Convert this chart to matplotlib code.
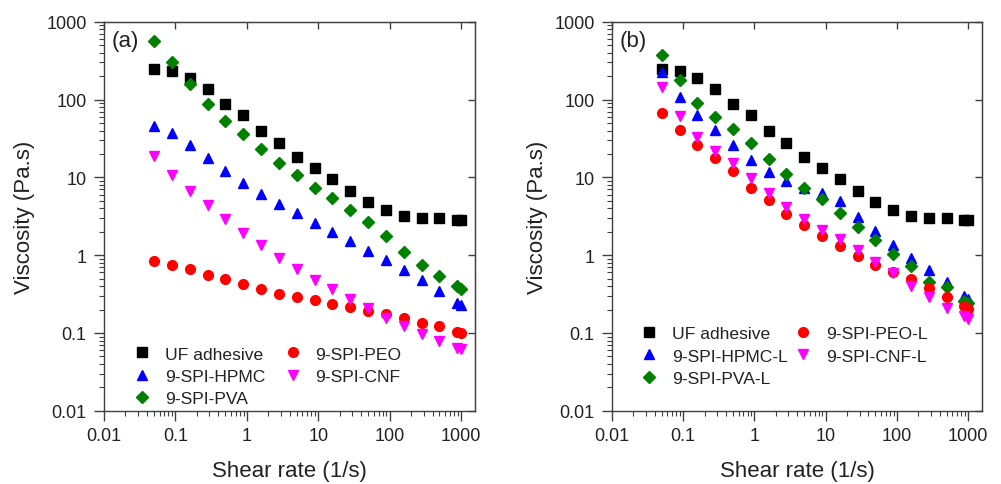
import numpy as np
import matplotlib
matplotlib.use("Agg")
import matplotlib.pyplot as plt
from matplotlib.ticker import LogLocator, NullLocator, NullFormatter

plt.rcParams['font.family'] = ['Liberation Sans', 'DejaVu Sans']

# shear rate (1/s)
shear = [0.05, 0.089, 0.158, 0.282, 0.5, 0.89, 1.58, 2.82, 5.0, 8.9,
         15.8, 28.2, 50, 89, 158, 282, 500, 890, 1000]

# viscosity (Pa.s), panel (a)
uf = [247, 232, 187, 138, 87.5, 62.7, 39.7, 27.9, 18.4, 13.2,
      9.4, 6.66, 4.82, 3.84, 3.18, 3.03, 3.0, 2.82, 2.85]
hpmc = [46, 36.7, 26.2, 17.5, 12.0, 8.45, 6.16, 4.54, 3.44, 2.61,
        2.0, 1.52, 1.14, 0.857, 0.644, 0.479, 0.346, 0.242, 0.229]
pva = [565, 306, 158, 87.5, 53.4, 36, 22.9, 15.4, 10.6, 7.35,
       5.37, 3.77, 2.68, 1.76, 1.1, 0.753, 0.533, 0.397, 0.366]
peo = [0.848, 0.746, 0.656, 0.56, 0.489, 0.429, 0.366, 0.319, 0.292, 0.267,
       0.237, 0.213, 0.19, 0.173, 0.154, 0.135, 0.122, 0.103, 0.0998]
cnf = [18.6, 10.8, 6.72, 4.41, 2.91, 1.94, 1.34, 0.918, 0.663, 0.483,
       0.367, 0.273, 0.207, 0.158, 0.122, 0.096, 0.078, 0.065, 0.062]

# panel (b), "-L" formulations
hpmc_l = [228, 109, 62.7, 40.5, 26.2, 16.8, 11.7, 8.96, 7.22, 6.29,
          4.96, 3.06, 2.03, 1.37, 0.91, 0.644, 0.447, 0.3, 0.273]
pva_l = [373, 180, 91, 59, 41.4, 27.6, 17, 11.1, 7.28, 5.21,
         3.51, 2.32, 1.56, 1.04, 0.724, 0.447, 0.386, 0.26, 0.242]
peo_l = [67, 40.6, 26.2, 17.7, 12.0, 7.22, 5.15, 3.37, 2.44, 1.78,
         1.32, 0.98, 0.753, 0.612, 0.493, 0.374, 0.292, 0.224, 0.203]
cnf_l = [146, 62, 33.3, 22, 15.1, 9.8, 6.22, 4.11, 2.91, 2.11,
         1.61, 1.17, 0.807, 0.583, 0.397, 0.292, 0.211, 0.163, 0.151]

x_major = [0.01, 0.1, 1, 10, 100, 1000]
y_major = [0.01, 0.1, 1, 10, 100, 1000]
x_labels = ['0.01', '0.1', '1', '10', '100', '1000']
y_labels = ['0.01', '0.1', '1', '10', '100', '1000']

spine_col = '#404040'
txt_col = '#222222'

fig = plt.figure(figsize=(10.01, 4.85), dpi=100)
ax_a = fig.add_axes([0.1039, 0.151, 0.3706, 0.802])
ax_b = fig.add_axes([0.6114, 0.151, 0.3696, 0.802])


def style_axes(ax, panel, ylab_x):
    ax.set_xscale('log')
    ax.set_yscale('log')
    ax.set_xlim(0.01, 1570)
    ax.set_ylim(0.01, 1000)
    ax.set_xticks(x_major)
    ax.set_xticklabels(x_labels)
    ax.set_yticks(y_major)
    ax.set_yticklabels(y_labels)
    ax.xaxis.set_minor_locator(LogLocator(base=10, subs=np.arange(2, 10), numticks=20))
    ax.yaxis.set_minor_locator(LogLocator(base=10, subs=np.arange(2, 10), numticks=20))
    ax.xaxis.set_minor_formatter(NullFormatter())
    ax.yaxis.set_minor_formatter(NullFormatter())
    ax.tick_params(which='major', direction='out', length=7.5, width=1,
                   color=spine_col, labelsize=13, labelcolor=txt_col)
    ax.tick_params(axis='x', which='major', pad=4)
    ax.tick_params(axis='y', which='major', pad=5)
    ax.tick_params(which='minor', direction='out', length=3.6, width=0.8, color=spine_col)
    for s in ax.spines.values():
        s.set_color(spine_col)
        s.set_linewidth(1.0)

    # inward major ticks on top and right
    top = ax.secondary_xaxis('top')
    top.set_xticks(x_major)
    top.xaxis.set_minor_locator(NullLocator())
    top.tick_params(which='major', direction='in', length=5, width=1,
                    color=spine_col, labeltop=False)
    top.spines['top'].set_color(spine_col)
    right = ax.secondary_yaxis('right')
    right.set_yticks(y_major)
    right.yaxis.set_minor_locator(NullLocator())
    right.tick_params(which='major', direction='in', length=5, width=1,
                      color=spine_col, labelright=False)
    right.spines['right'].set_color(spine_col)

    ax.set_xlabel('Shear rate (1/s)', fontsize=16, color=txt_col)
    ax.set_ylabel('Viscosity (Pa.s)', fontsize=16, color=txt_col)
    ax.xaxis.set_label_coords(0.5, -0.127)
    ax.yaxis.set_label_coords(ylab_x, 0.5)
    ax.text(0.02, 0.953, panel, transform=ax.transAxes, fontsize=16,
            va='center', ha='left', color=txt_col)


# panel (a)
ax_a.plot(shear, uf, 's', color='black', ms=6.5, label='UF adhesive', zorder=3)
ax_a.plot(shear, hpmc, '^', color='blue', ms=7.5, label='9-SPI-HPMC', zorder=3)
ax_a.plot(shear, pva, 'D', color='green', ms=6, label='9-SPI-PVA', zorder=3)
ax_a.plot(shear, peo, 'o', color='red', ms=7, label='9-SPI-PEO', zorder=3)
ax_a.plot(shear, cnf, 'v', color='magenta', ms=7.5, label='9-SPI-CNF', zorder=3)
style_axes(ax_a, '(a)', -0.187)
ax_a.legend(ncol=2, loc='lower left', bbox_to_anchor=(0.075, 0.012), frameon=False,
            fontsize=12.6, handlelength=1.2, handletextpad=0.7, columnspacing=0.95,
            labelspacing=0.4, borderpad=0, borderaxespad=0, labelcolor=txt_col)

# panel (b)
ax_b.plot(shear, uf, 's', color='black', ms=6.5, label='UF adhesive', zorder=3)
ax_b.plot(shear, hpmc_l, '^', color='blue', ms=7.5, label='9-SPI-HPMC-L', zorder=3)
ax_b.plot(shear, pva_l, 'D', color='green', ms=6, label='9-SPI-PVA-L', zorder=3)
ax_b.plot(shear, peo_l, 'o', color='red', ms=7, label='9-SPI-PEO-L', zorder=3)
ax_b.plot(shear, cnf_l, 'v', color='magenta', ms=7.5, label='9-SPI-CNF-L', zorder=3)
style_axes(ax_b, '(b)', -0.174)
ax_b.legend(ncol=2, loc='lower left', bbox_to_anchor=(0.072, 0.064), frameon=False,
            fontsize=12.6, handlelength=1.2, handletextpad=0.7, columnspacing=0.3,
            labelspacing=0.4, borderpad=0, borderaxespad=0, labelcolor=txt_col)

fig.savefig('out.png', dpi=100)
